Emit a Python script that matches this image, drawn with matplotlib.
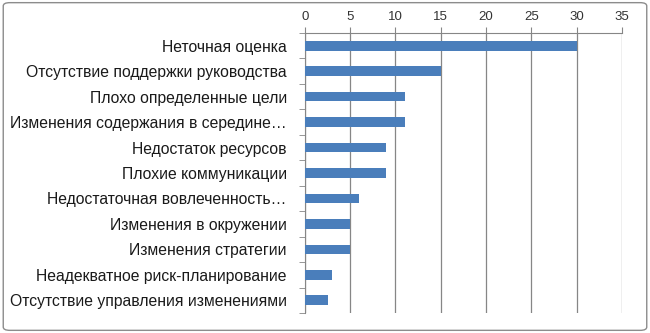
import numpy as np
import matplotlib.pyplot as plt
import matplotlib
from matplotlib.patches import FancyBboxPatch

matplotlib.rcParams["font.family"] = ["Liberation Sans", "DejaVu Sans"]

causes = [
    "Неточная оценка",
    "Отсутствие поддержки руководства",
    "Плохо определенные цели",
    "Изменения содержания в середине…",
    "Недостаток ресурсов",
    "Плохие коммуникации",
    "Недостаточная вовлеченность…",
    "Изменения в окружении",
    "Изменения стратегии",
    "Неадекватное риск-планирование",
    "Отсутствие управления изменениями",
]
values = [30, 15, 11, 11, 9, 9, 6, 5, 5, 3, 2.6]
xticks = [0, 5, 10, 15, 20, 25, 30, 35]

fig = plt.figure(figsize=(6.5, 3.33), dpi=100)
ax = fig.add_axes([0.469, 0.06, 0.488, 0.841])

y = np.arange(len(causes))
ax.barh(y, values, height=0.38, color="#4A7EBB", zorder=3)

ax.set_xlim(0, 35)
ax.set_ylim(len(causes) - 0.5, -0.5)
ax.set_xticks(xticks)
ax.xaxis.tick_top()
ax.tick_params(axis="x", labelsize=9.5, length=4, color="#868686",
               labelcolor="#333333", pad=3)
ax.grid(axis="x", color="#868686", lw=0.9, zorder=0)

ax.set_yticks(y)
ax.set_yticklabels(causes, fontsize=11.3, color="#1a1a1a")
ax.set_yticks(np.arange(len(causes) + 1) - 0.5, minor=True)
ax.tick_params(axis="y", which="major", length=0, pad=13)
ax.tick_params(axis="y", which="minor", length=4, color="#868686")

for side in ["right", "bottom"]:
    ax.spines[side].set_visible(False)
for side in ["left", "top"]:
    ax.spines[side].set_color("#868686")

border = FancyBboxPatch((0.005, 0.008), 0.99, 0.984,
                        boxstyle="round,pad=0,rounding_size=0.01",
                        transform=fig.transFigure, fill=False,
                        edgecolor="#8c8c8c", lw=1)
fig.patches.append(border)

fig.savefig("out.png", dpi=100)
plt.close(fig)
